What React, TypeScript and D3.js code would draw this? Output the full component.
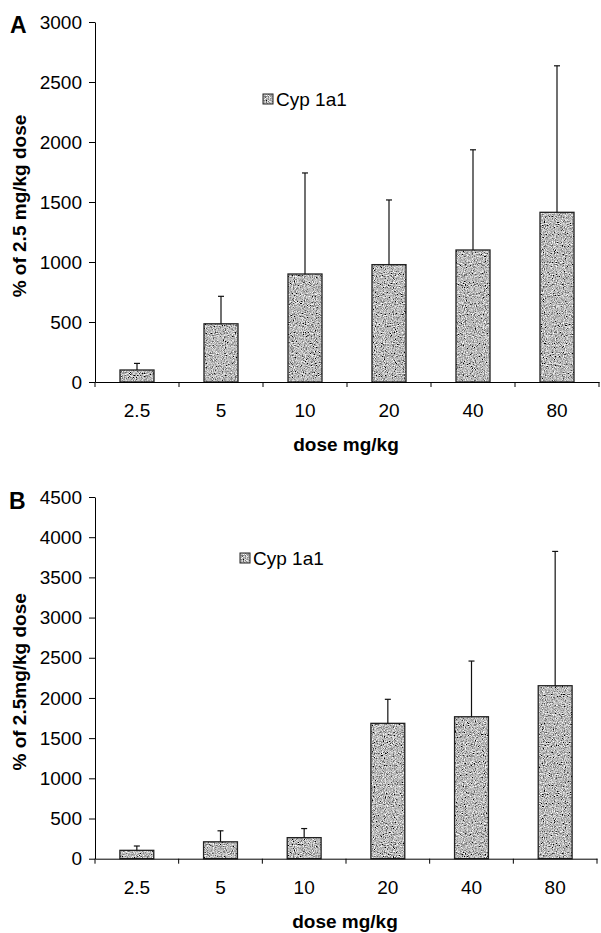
import { useRef, useEffect } from 'react';
import * as d3 from 'd3';

const doses = ["2.5", "5", "10", "20", "40", "80"];

// panel A: % of 2.5 mg/kg dose
const meanA = [100, 485, 900, 978, 1100, 1414];
const sdA = [55, 229, 842, 539, 835, 1221];
const ticksA = [0, 500, 1000, 1500, 2000, 2500, 3000];

// panel B
const meanB = [104, 210, 262, 1684, 1766, 2152];
const sdB = [54, 137, 113, 299, 693, 1671];
const ticksB = [0, 500, 1000, 1500, 2000, 2500, 3000, 3500, 4000, 4500];

const seriesName = "Cyp 1a1";
const FONT = "'Liberation Sans', Arial, sans-serif";

const panels = [
  {
    letter: "A", mean: meanA, sd: sdA, ticks: ticksA,
    ylabel: "% of 2.5 mg/kg dose",
    top: 22, bottom: 382, left: 95, right: 599,
    letterPos: [10, 33], legend: [263, 94],
  },
  {
    letter: "B", mean: meanB, sd: sdB, ticks: ticksB,
    ylabel: "% of 2.5mg/kg dose",
    top: 497, bottom: 858.7, left: 95, right: 597,
    letterPos: [9, 509], legend: [240, 553],
  },
];

const useD3 = (renderChartFn, dependencies) => {
  const ref = useRef(null);
  useEffect(() => {
    renderChartFn(d3.select(ref.current));
    return () => {};
  }, dependencies);
  return ref;
};

export default function App() {
  const ref = useD3((svg) => {
    svg.selectAll("*").remove();

    // speckled grey texture like the printed bars
    const defs = svg.append("defs");
    const f = defs.append("filter").attr("id", "grain")
      .attr("x", 0).attr("y", 0).attr("width", "100%").attr("height", "100%");
    f.append("feTurbulence").attr("type", "fractalNoise")
      .attr("baseFrequency", 0.9).attr("numOctaves", 2).attr("seed", 4).attr("result", "noise");
    f.append("feColorMatrix").attr("in", "noise").attr("type", "matrix")
      .attr("values", "0.33 0.33 0.33 0 0  0.33 0.33 0.33 0 0  0.33 0.33 0.33 0 0  0 0 0 0 1")
      .attr("result", "grey");
    const ct = f.append("feComponentTransfer").attr("in", "grey").attr("result", "contrast");
    ["feFuncR", "feFuncG", "feFuncB"].forEach((fn) =>
      ct.append(fn).attr("type", "linear").attr("slope", 3).attr("intercept", -1));
    f.append("feComposite").attr("in", "contrast").attr("in2", "SourceGraphic").attr("operator", "in");

    panels.forEach((p) => {
      const g = svg.append("g");

      const x = d3.scaleBand().domain(doses).range([p.left, p.right]).padding(0);
      const y = d3.scaleLinear()
        .domain([0, p.ticks[p.ticks.length - 1]])
        .range([p.bottom, p.top]);
      const barW = x.bandwidth() * 0.405;

      const data = doses.map((d, i) => ({ dose: d, mean: p.mean[i], sd: p.sd[i] }));

      // bars
      const bars = g.append("g");
      bars.selectAll("rect.fill")
        .data(data)
        .join("rect")
        .attr("class", "fill")
        .attr("x", (d) => x(d.dose) + (x.bandwidth() - barW) / 2)
        .attr("width", barW)
        .attr("y", (d) => y(d.mean))
        .attr("height", (d) => y(0) - y(d.mean))
        .attr("fill", "#888")
        .attr("filter", "url(#grain)");
      bars.selectAll("rect.edge")
        .data(data)
        .join("rect")
        .attr("class", "edge")
        .attr("x", (d) => x(d.dose) + (x.bandwidth() - barW) / 2)
        .attr("width", barW)
        .attr("y", (d) => y(d.mean))
        .attr("height", (d) => y(0) - y(d.mean))
        .attr("fill", "none")
        .attr("stroke", "#222")
        .attr("stroke-width", 1.3);

      // error bars (upper only)
      const err = g.append("g").attr("stroke", "#111").attr("stroke-width", 1.2);
      err.selectAll("line.v")
        .data(data)
        .join("line")
        .attr("class", "v")
        .attr("x1", (d) => x(d.dose) + x.bandwidth() / 2)
        .attr("x2", (d) => x(d.dose) + x.bandwidth() / 2)
        .attr("y1", (d) => y(d.mean))
        .attr("y2", (d) => y(d.mean + d.sd));
      err.selectAll("line.cap")
        .data(data)
        .join("line")
        .attr("class", "cap")
        .attr("x1", (d) => x(d.dose) + x.bandwidth() / 2 - 3)
        .attr("x2", (d) => x(d.dose) + x.bandwidth() / 2 + 3)
        .attr("y1", (d) => y(d.mean + d.sd))
        .attr("y2", (d) => y(d.mean + d.sd));

      // y axis
      g.append("g")
        .attr("transform", `translate(${p.left},0)`)
        .call(d3.axisLeft(y).tickValues(p.ticks).tickFormat(d3.format("d"))
          .tickSize(6).tickSizeOuter(0).tickPadding(7))
        .call((a) => a.selectAll("text").attr("font-size", 19).attr("font-family", FONT).attr("fill", "#000"))
        .call((a) => a.selectAll("line,path").attr("stroke", "#000"));

      // x axis: labels at centres, ticks on category boundaries
      g.append("g")
        .attr("transform", `translate(0,${p.bottom})`)
        .call(d3.axisBottom(x).tickSize(0).tickPadding(0).tickSizeOuter(0))
        .call((a) => a.select(".domain").attr("stroke", "#000"))
        .call((a) => a.selectAll("text").attr("font-size", 19).attr("font-family", FONT)
          .attr("fill", "#000").attr("dy", null).attr("y", 35));
      g.append("g")
        .selectAll("line")
        .data([...doses.map((d) => x(d)), p.right])
        .join("line")
        .attr("x1", (d) => d).attr("x2", (d) => d)
        .attr("y1", p.bottom).attr("y2", p.bottom + 5)
        .attr("stroke", "#000");

      // titles
      g.append("text")
        .attr("transform", `translate(26,${(p.top + p.bottom) / 2 + 4}) rotate(-90)`)
        .attr("text-anchor", "middle")
        .attr("font-family", FONT).attr("font-weight", "bold").attr("font-size", 19)
        .text(p.ylabel);
      g.append("text")
        .attr("x", (p.left + p.right) / 2 - 1)
        .attr("y", p.bottom + 69)
        .attr("text-anchor", "middle")
        .attr("font-family", FONT).attr("font-weight", "bold").attr("font-size", 19)
        .text("dose mg/kg");
      g.append("text")
        .attr("x", p.letterPos[0]).attr("y", p.letterPos[1])
        .attr("font-family", FONT).attr("font-weight", "bold").attr("font-size", 23)
        .text(p.letter);

      // legend
      const lg = g.append("g").attr("transform", `translate(${p.legend[0]},${p.legend[1]})`);
      lg.append("rect").attr("width", 10).attr("height", 10).attr("fill", "#888").attr("filter", "url(#grain)");
      lg.append("rect").attr("width", 10).attr("height", 10).attr("fill", "none")
        .attr("stroke", "#222").attr("stroke-width", 1);
      lg.append("text").attr("x", 13).attr("y", 11.5)
        .attr("font-family", FONT).attr("font-size", 19)
        .text(seriesName);
    });
  }, []);

  return (
    <svg
      ref={ref}
      width={601}
      height={933}
      style={{ position: "absolute", left: 0, top: 0, background: "#fff" }}
    />
  );
}
